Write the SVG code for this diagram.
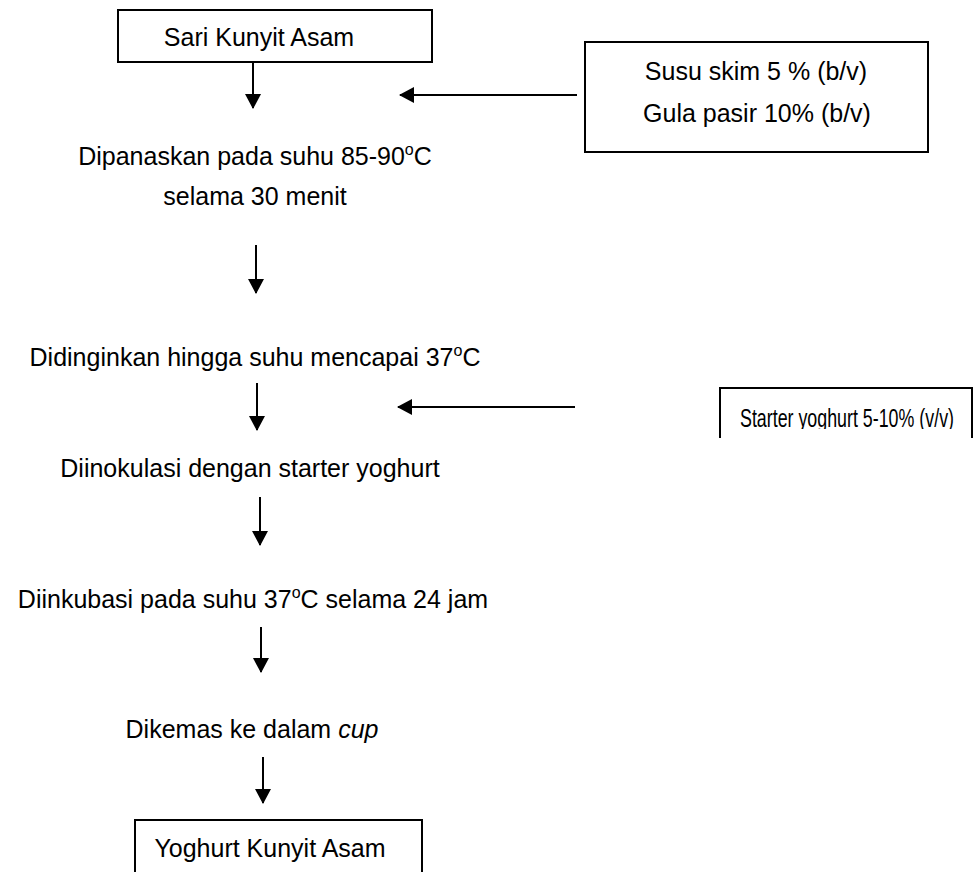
<svg xmlns="http://www.w3.org/2000/svg" width="979" height="872" viewBox="0 0 979 872">
<style>
  text { font-family: "Liberation Sans", Arial, sans-serif; font-size: 25px; fill: #000; text-anchor: middle; }
  .box { fill: #fff; stroke: #000; stroke-width: 2; }
  .open { fill: none; stroke: #000; stroke-width: 2; }
  .conn line { stroke: #000; stroke-width: 2; }
  .sup { font-size: 16px; }
</style>
<defs>
  <marker id="ah" markerWidth="16" markerHeight="16" refX="14" refY="8" orient="auto" markerUnits="userSpaceOnUse">
    <path d="M0,0 L15,8 L0,16 Z" fill="#000"/>
  </marker>
  <clipPath id="clipStarter">
    <rect x="721" y="389" width="250" height="40"/>
  </clipPath>
</defs>
<rect width="979" height="872" fill="#fff"/>

<g id="n1">
  <rect class="box" x="118" y="10" width="314" height="52"/>
  <text x="259" y="46">Sari Kunyit Asam</text>
</g>
<g id="n2">
  <rect class="box" x="585" y="42" width="343" height="110"/>
  <text x="756" y="80">Susu skim 5 % (b/v)</text>
  <text x="757" y="122">Gula pasir 10% (b/v)</text>
</g>
<g id="n3">
  <text x="255" y="165">Dipanaskan pada suhu 85-90<tspan class="sup" dy="-10">o</tspan><tspan dy="10">C</tspan></text>
  <text x="255" y="205">selama 30 menit</text>
</g>
<g id="n4">
  <text x="255" y="366">Didinginkan hingga suhu mencapai 37<tspan class="sup" dy="-10">o</tspan><tspan dy="10">C</tspan></text>
</g>
<g id="n5">
  <path class="open" d="M720,438 V388 H972 V438"/>
  <text x="847" y="427" textLength="214" lengthAdjust="spacingAndGlyphs" clip-path="url(#clipStarter)">Starter yoghurt 5-10% (v/v)</text>
</g>
<g id="n6">
  <text x="250" y="477">Diinokulasi dengan starter yoghurt</text>
</g>
<g id="n7">
  <text x="253" y="608">Diinkubasi pada suhu 37<tspan class="sup" dy="-10">o</tspan><tspan dy="10">C selama 24 jam</tspan></text>
</g>
<g id="n8">
  <text x="252" y="738">Dikemas ke dalam <tspan font-style="italic">cup</tspan></text>
</g>
<g id="n9">
  <rect class="box" x="135" y="820" width="287" height="60"/>
  <text x="270" y="857">Yoghurt Kunyit Asam</text>
</g>

<g id="connectors" class="conn">
  <line x1="253" y1="62" x2="253" y2="108" marker-end="url(#ah)"/>
  <line x1="577" y1="95" x2="400" y2="95" marker-end="url(#ah)"/>
  <line x1="256" y1="245" x2="256" y2="293" marker-end="url(#ah)"/>
  <line x1="257" y1="383" x2="257" y2="430" marker-end="url(#ah)"/>
  <line x1="575" y1="407" x2="398" y2="407" marker-end="url(#ah)"/>
  <line x1="260" y1="497" x2="260" y2="545" marker-end="url(#ah)"/>
  <line x1="261" y1="627" x2="261" y2="672" marker-end="url(#ah)"/>
  <line x1="263" y1="757" x2="263" y2="803" marker-end="url(#ah)"/>
</g>
</svg>
